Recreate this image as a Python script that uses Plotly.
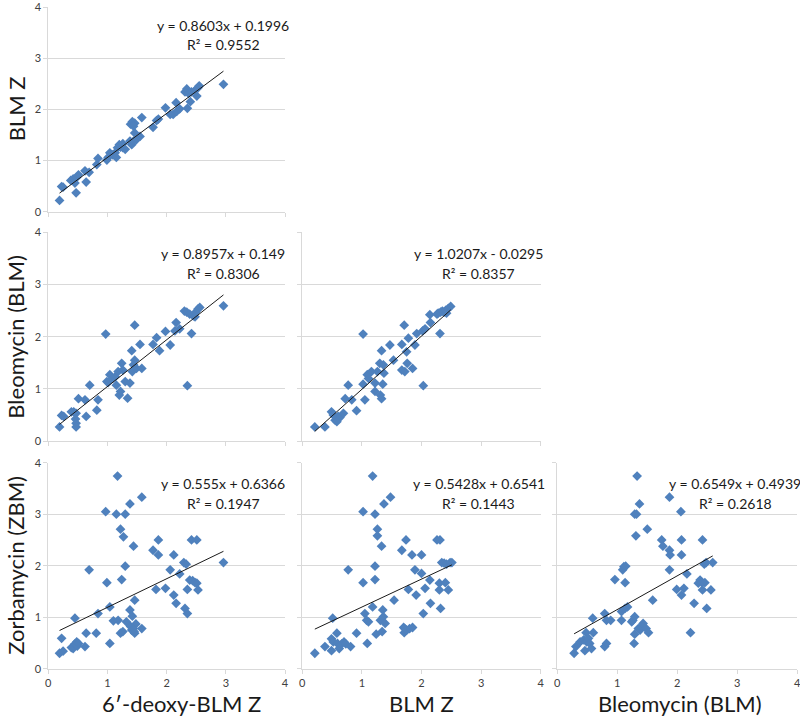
import plotly.graph_objects as go

# ---------------- data ----------------
# Panel 1: x = 6'-deoxy-BLM Z, y = BLM Z
p1_x = [0.19, 0.225, 0.25, 0.38, 0.42, 0.45, 0.48, 0.51, 0.47, 0.62, 0.64, 0.69, 0.82, 0.84,
        0.99, 1.01, 1.04, 1.09, 1.13, 1.15, 1.17, 1.20, 1.22, 1.26, 1.30, 1.26,
        1.38, 1.41, 1.44, 1.46, 1.49, 1.55, 1.39, 1.42, 1.46, 1.44, 1.58,
        1.77, 1.83, 1.86, 1.98, 2.06, 2.11, 2.16, 2.17, 2.22,
        2.31, 2.34, 2.37, 2.35, 2.40, 2.42, 2.48, 2.51, 2.53, 2.55, 2.96]
p1_y = [0.22, 0.49, 0.48, 0.61, 0.64, 0.56, 0.67, 0.72, 0.37, 0.80, 0.58, 0.77, 0.92, 1.04,
        1.01, 1.06, 1.15, 1.11, 1.15, 1.06, 1.25, 1.31, 1.26, 1.25, 1.22, 1.33,
        1.38, 1.31, 1.38, 1.54, 1.41, 1.47, 1.71, 1.76, 1.73, 1.67, 1.84,
        1.65, 1.78, 1.81, 2.03, 1.90, 1.90, 2.13, 1.96, 2.01,
        2.34, 2.40, 2.31, 2.02, 2.15, 2.34, 2.37, 2.26, 2.42, 2.46, 2.49]

# Panel 2: x = 6'-deoxy-BLM Z, y = Bleomycin (BLM)
p2_x = [0.19, 0.225, 0.26, 0.39, 0.43, 0.47, 0.46, 0.47, 0.47, 0.51, 0.62, 0.64, 0.70, 0.82, 0.84,
        0.97, 0.99, 1.01, 1.04, 1.09, 1.13, 1.15, 1.18, 1.20, 1.22, 1.24, 1.26, 1.30, 1.34, 1.38,
        1.41, 1.42, 1.44, 1.46, 1.46, 1.49, 1.55, 1.58,
        1.77, 1.83, 1.88, 1.98, 2.06, 2.14, 2.16, 2.22,
        2.30, 2.34, 2.35, 2.39, 2.42, 2.45, 2.49, 2.53, 2.56, 2.48, 2.96]
p2_y = [0.27, 0.49, 0.47, 0.56, 0.56, 0.53, 0.42, 0.34, 0.27, 0.81, 0.79, 0.47, 1.07, 0.59, 0.79,
        2.05, 1.14, 1.12, 1.27, 1.20, 1.23, 1.07, 1.33, 0.88, 0.95, 1.49, 1.36, 1.14, 0.82, 1.11,
        1.73, 1.33, 1.46, 2.22, 1.55, 1.39, 1.85, 1.39,
        1.85, 1.98, 1.73, 2.10, 1.84, 2.11, 2.27, 2.15,
        2.49, 2.47, 1.06, 2.43, 2.06, 2.40, 2.47, 2.53, 2.56, 2.38, 2.59]

# Panel 3: x = BLM Z, y = Bleomycin (BLM)
p3_x = [0.21, 0.38, 0.49, 0.52, 0.55, 0.58, 0.60, 0.63, 0.69, 0.58, 0.72, 0.77, 0.83, 0.91,
        1.02, 1.02, 1.05, 1.09, 1.11, 1.16, 1.22, 1.22, 1.26, 1.30, 1.31, 1.33, 1.35, 1.33,
        1.36, 1.37, 1.47, 1.53, 1.67, 1.71, 1.67, 1.72, 1.75, 1.76, 1.78, 1.85, 1.89, 1.92,
        2.02, 2.03, 2.06, 2.14, 2.15, 2.26, 2.28, 2.31, 2.32, 2.35, 2.38, 2.41, 2.45, 2.49, 2.42]
p3_y = [0.27, 0.27, 0.56, 0.50, 0.40, 0.45, 0.47, 0.45, 0.53, 0.37, 0.81, 1.07, 0.79, 0.58,
        2.05, 1.09, 0.79, 1.27, 1.20, 1.33, 1.11, 0.95, 1.33, 1.49, 0.88, 0.81, 1.09, 1.73,
        1.46, 1.30, 1.84, 1.55, 1.85, 2.22, 1.36, 1.33, 1.71, 1.49, 1.97, 1.39, 1.84, 2.06,
        2.11, 1.06, 2.15, 2.42, 2.27, 2.43, 2.45, 2.06, 2.47, 2.49, 2.47, 2.51, 2.54, 2.58, 2.45]

# Panel 4: x = 6'-deoxy-BLM Z, y = Zorbamycin (ZBM)
p4_x = [0.19, 0.225, 0.25, 0.39, 0.42, 0.45, 0.45, 0.48, 0.49, 0.51, 0.62, 0.64, 0.69, 0.81, 0.84,
        0.97, 0.99, 1.04, 1.04, 1.10, 1.15, 1.17, 1.18, 1.22, 1.24, 1.22, 1.26, 1.27, 1.30, 1.30,
        1.32, 1.38, 1.38, 1.39, 1.41, 1.42, 1.44, 1.45, 1.46, 1.48, 1.46, 1.44, 1.58, 1.58,
        1.77, 1.82, 1.86, 1.86, 1.98, 2.06, 2.12, 2.12, 2.16, 2.22, 2.29, 2.31, 2.33, 2.35,
        2.35, 2.39, 2.42, 2.44, 2.48, 2.51, 2.51, 2.53, 2.96]
p4_y = [0.30, 0.59, 0.34, 0.41, 0.39, 0.98, 0.48, 0.52, 0.44, 0.49, 0.43, 0.69, 1.92, 0.69, 1.07,
        3.05, 1.67, 1.20, 0.49, 0.93, 3.00, 3.74, 0.94, 0.69, 1.73, 2.71, 0.72, 2.56, 3.00, 1.99,
        0.91, 3.20, 1.14, 0.82, 0.75, 1.02, 2.38, 0.72, 0.69, 0.87, 1.33, 0.78, 3.33, 0.78,
        2.30, 1.54, 2.50, 2.21, 1.56, 1.92, 2.21, 1.43, 1.27, 1.84, 2.06, 1.17, 2.03, 1.07,
        1.54, 1.72, 2.50, 1.71, 1.67, 2.50, 1.66, 1.53, 2.06]

# Panel 5: x = BLM Z, y = Zorbamycin (ZBM)
p5_x = [0.21, 0.38, 0.49, 0.51, 0.52, 0.49, 0.58, 0.59, 0.62, 0.66, 0.70, 0.73, 0.81, 0.77, 0.91,
        1.02, 1.02, 1.05, 1.08, 1.09, 1.11, 1.18, 1.18, 1.22, 1.22, 1.22, 1.24, 1.26, 1.26,
        1.31, 1.33, 1.34, 1.35, 1.36, 1.39, 1.37, 1.48, 1.54,
        1.67, 1.70, 1.71, 1.72, 1.74, 1.75, 1.78, 1.80, 1.84, 1.85, 1.89, 1.91, 2.00, 2.00,
        2.03, 2.06, 2.14, 2.15, 2.26, 2.31, 2.30, 2.30, 2.32, 2.34, 2.38, 2.40, 2.42, 2.45,
        2.48, 2.51]
p5_y = [0.30, 0.43, 0.58, 0.98, 0.52, 0.35, 0.69, 0.49, 0.39, 0.48, 0.52, 0.48, 0.43, 1.92, 0.69,
        3.05, 1.67, 1.07, 0.94, 0.49, 0.91, 3.74, 1.20, 3.00, 1.99, 1.73, 0.67, 2.71, 2.58,
        0.94, 2.38, 0.72, 1.14, 1.01, 0.88, 3.20, 3.33, 1.33,
        2.30, 0.80, 0.70, 0.78, 2.50, 0.75, 1.54, 0.78, 2.21, 0.80, 1.92, 1.43, 2.21, 1.85,
        1.07, 1.56, 1.72, 1.27, 2.50, 2.50, 1.66, 1.53, 1.17, 2.06, 2.05, 1.67, 2.03, 1.53,
        2.06, 2.06]

# Panel 6: x = Bleomycin (BLM), y = Zorbamycin (ZBM)
p6_x = [0.28, 0.31, 0.38, 0.44, 0.46, 0.48, 0.49, 0.52, 0.54, 0.57, 0.59, 0.60,
        0.79, 0.79, 0.82, 0.82, 0.89, 0.96, 1.07, 1.07, 1.09, 1.11, 1.13, 1.14, 1.13, 1.17,
        1.24, 1.26, 1.28, 1.29, 1.31, 1.32, 1.29, 1.29, 1.33, 1.35, 1.37, 1.38, 1.41, 1.43,
        1.48, 1.50, 1.52, 1.59,
        1.74, 1.76, 1.87, 1.87, 1.88, 1.87, 1.99, 2.06, 2.07, 2.07, 2.07, 2.11, 2.16, 2.22,
        2.28, 2.35, 2.38, 2.41, 2.42, 2.42, 2.45, 2.48, 2.46, 2.49, 2.56, 2.59]
p6_y = [0.30, 0.43, 0.52, 0.56, 0.35, 0.70, 0.52, 0.59, 0.49, 0.39, 0.98, 0.70,
        1.07, 0.43, 0.94, 0.49, 0.94, 1.73, 0.94, 1.11, 1.92, 1.98, 1.67, 1.99, 1.17, 1.20,
        0.91, 0.94, 0.49, 3.00, 2.58, 3.00, 1.01, 0.67, 3.74, 0.78, 3.20, 0.75, 0.82, 0.88,
        0.78, 2.71, 0.70, 1.33,
        2.50, 2.38, 3.33, 2.30, 2.21, 1.92, 1.54, 3.05, 2.50, 2.21, 1.43, 1.56, 1.84, 0.70,
        1.27, 1.66, 1.72, 1.67, 2.50, 1.53, 2.03, 2.06, 1.67, 1.17, 1.53, 2.06]

# Fitted trendline coefficients (slope, intercept) and R² shown in each panel
slopes = [0.8603, 0.8957, 1.0207, 0.555, 0.5428, 0.6549]
intercepts = [0.1996, 0.149, -0.0295, 0.6366, 0.6541, 0.4939]
eq_labels = ["y = 0.8603x + 0.1996", "y = 0.8957x + 0.149", "y = 1.0207x - 0.0295",
             "y = 0.555x + 0.6366", "y = 0.5428x + 0.6541", "y = 0.6549x + 0.4939"]
r2_labels = ["R² = 0.9552", "R² = 0.8306", "R² = 0.8357",
             "R² = 0.1947", "R² = 0.1443", "R² = 0.2618"]

x_titles = ["6′-deoxy-BLM Z", "BLM Z", "Bleomycin (BLM)"]
y_titles = ["BLM Z", "Bleomycin (BLM)", "Zorbamycin (ZBM)"]
tick_vals = [0, 1, 2, 3, 4]

# ---------------- layout geometry ----------------
W, H = 800, 718
def px(x):
    return x / W
def py(y):
    return 1 - y / H

col_px = [(48.3, 285.0), (302.3, 540.7), (557.3, 797.3)]
row_px = [(7.0, 211.7), (232.3, 441.0), (462.7, 668.7)]

# panel -> (row, col)
panels = [(0, 0), (1, 0), (1, 1), (2, 0), (2, 1), (2, 2)]
xs = [p1_x, p2_x, p3_x, p4_x, p5_x, p6_x]
ys = [p1_y, p2_y, p3_y, p4_y, p5_y, p6_y]

FONT = "Lato, 'Open Sans', Arial, sans-serif"
BLUE = "#4F81BD"
AXC = "#D9D9D9"
GRIDC = "#D9D9D9"

fig = go.Figure()
layout = dict(width=W, height=H, autosize=False, margin=dict(l=0, r=0, t=0, b=0, pad=0),
              paper_bgcolor="white", plot_bgcolor="white", showlegend=False,
              font=dict(family=FONT, color="#404040"))
annotations = []

for i, ((r, c), x, y) in enumerate(zip(panels, xs, ys)):
    k = "" if i == 0 else str(i + 1)
    xa, ya = "x" + k, "y" + k
    fig.add_trace(go.Scatter(x=x, y=y, mode="markers", xaxis=xa, yaxis=ya,
                             marker=dict(symbol="diamond", size=7.5, color=BLUE,
                                         line=dict(width=0))))
    xmin, xmax = min(x), max(x)
    fig.add_trace(go.Scatter(x=[xmin, xmax],
                             y=[slopes[i] * xmin + intercepts[i], slopes[i] * xmax + intercepts[i]],
                             mode="lines", xaxis=xa, yaxis=ya,
                             line=dict(color="#1a1a1a", width=1)))
    x0, x1 = col_px[c]
    y0, y1 = row_px[r]
    layout["xaxis" + k] = dict(domain=[px(x0), px(x1)], range=[0, 4], anchor=ya,
                               tickvals=tick_vals, showticklabels=(r == 2),
                               showgrid=False, zeroline=False, showline=True,
                               linecolor=AXC, linewidth=1, ticks="outside",
                               ticklen=4, tickcolor=AXC, automargin=False,
                               ticklabeloverflow="allow",
                               tickfont=dict(size=11, color="#404040"))
    layout["yaxis" + k] = dict(domain=[py(y1), py(y0)], range=[0, 4], anchor=xa,
                               tickvals=tick_vals, showticklabels=(c == 0),
                               showgrid=True, gridcolor=GRIDC, gridwidth=1,
                               zeroline=False, showline=True,
                               linecolor=AXC, linewidth=1, ticks="outside",
                               ticklen=4, tickcolor=AXC, automargin=False,
                               ticklabeloverflow="allow",
                               tickfont=dict(size=11, color="#404040"))
    # equation and R² text, top-right of each panel
    cx = x1 - 62
    ytop = row_px[r][0] if r > 0 else 4.0
    annotations.append(dict(text=eq_labels[i], xref="paper", yref="paper",
                            x=px(cx), y=py(ytop + 21), xanchor="center", yanchor="middle",
                            showarrow=False, font=dict(size=14, color="#1a1a1a", family=FONT)))
    annotations.append(dict(text=r2_labels[i], xref="paper", yref="paper",
                            x=px(cx), y=py(ytop + 41), xanchor="center", yanchor="middle",
                            showarrow=False, font=dict(size=14, color="#1a1a1a", family=FONT)))

# axis titles
x_title_cx = [181, 421.5, 680]
for c in range(3):
    annotations.append(dict(text=x_titles[c], xref="paper", yref="paper",
                            x=px(x_title_cx[c]), y=py(703), xanchor="center", yanchor="middle",
                            showarrow=False, font=dict(size=22, color="#1a1a1a", family=FONT)))
for r in range(3):
    cy = (row_px[r][0] + row_px[r][1]) / 2
    annotations.append(dict(text=y_titles[r], xref="paper", yref="paper",
                            x=px(16), y=py(cy), xanchor="center", yanchor="middle",
                            textangle=-90, showarrow=False,
                            font=dict(size=22, color="#1a1a1a", family=FONT)))

layout["annotations"] = annotations
fig.update_layout(**layout)
fig.write_html("out.html", config={"displayModeBar": False},
               post_script="document.body.style.margin='0';document.body.style.padding='0';")
